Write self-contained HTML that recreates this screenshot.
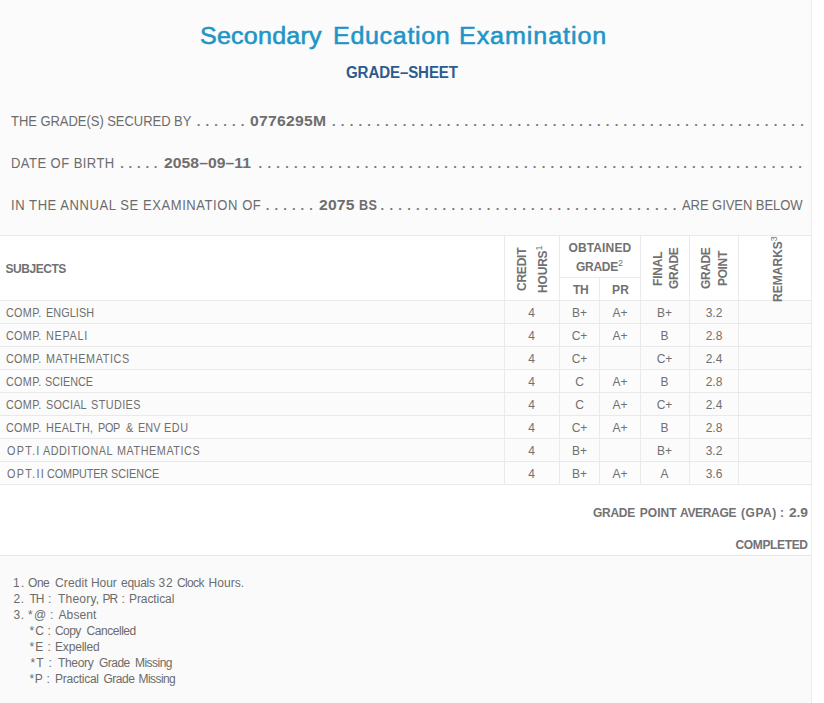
<!DOCTYPE html>
<html>
<head>
<meta charset="utf-8">
<title>Grade Sheet</title>
<style>
html,body{margin:0;padding:0;background:#fff;}
body{width:824px;height:703px;overflow:hidden;font-family:"Liberation Sans",sans-serif;color:#707070;position:relative;}
#sheet{position:absolute;left:0;top:0;width:811px;height:703px;background:#fbfbfb;border-right:1px solid #eeeeee;}
.abs{position:absolute;white-space:nowrap;line-height:16px;}
.rot{position:absolute;white-space:nowrap;line-height:12px;transform-origin:0 0;transform:rotate(-90deg);font-size:12px;font-weight:bold;color:#717171;}
sup{font-size:9px;font-weight:normal;line-height:0;vertical-align:baseline;position:relative;top:-5px;}
.ti{font-size:23px;line-height:30px;color:#1f95c7;-webkit-text-stroke:0.55px #1f95c7;transform-origin:0 0;transform:scaleX(1.09);}
.t{font-size:14px;color:#6c6c6c;transform-origin:0 0;transform:scaleX(0.93);}
.b{font-size:14px;font-weight:bold;color:#6e6e6e;transform-origin:0 0;transform:scaleX(1.12);}
.h{font-size:12px;font-weight:bold;color:#717171;}
.s{font-size:12px;color:#6e6e6e;transform-origin:0 0;transform:scaleX(0.9);}
.n{font-size:12px;color:#6c6c6c;}
.d{font-size:13px;font-weight:bold;color:#777;}
#tbl{position:absolute;left:0;top:235px;width:811px;height:321px;background:#fff;}
#grid{position:absolute;left:0;top:0;width:812px;border-collapse:separate;border-spacing:0;table-layout:fixed;border-top:1px solid #e9e9e9;font-size:12px;}
#grid th,#grid td{box-sizing:border-box;border-right:1px solid #eaeaea;border-bottom:1px solid #e9e9e9;padding:0;margin:0;}
#grid td{height:23px;text-align:center;line-height:20px;padding-top:2px;color:#707070;background:#fcfcfc;}
#grid tr.o td{background:#fbfbfb;}
#grid td:nth-child(2),#grid td:nth-child(5){padding-right:1px;}
#grid th{background:#fff;}
#foot{position:absolute;left:0;top:555px;width:811px;height:148px;background:#fafafa;border-top:1px solid #e8e8e8;}
</style>
</head>
<body>
<div id="sheet">
<div id="t1" class="abs ti" style="left:199.60px;top:21.00px;letter-spacing:0.191px;">Secondary</div>
<div id="t2" class="abs ti" style="left:332.80px;top:21.00px;letter-spacing:0.604px;">Education</div>
<div id="t3" class="abs ti" style="left:458.80px;top:21.00px;letter-spacing:0.855px;">Examination</div>
<div id="sub" class="abs" style="font-size:16px;line-height:18px;font-weight:bold;color:#2d5b8e;transform-origin:0 0;transform:scaleX(0.94);left:346.00px;top:64.00px;letter-spacing:-0.090px;">GRADE–SHEET</div>

<div id="l1a" class="abs t" style="left:10.60px;top:113.00px;letter-spacing:-0.057px;">THE GRADE(S) SECURED BY</div>
<div id="l1d" class="abs d" style="left:196.80px;top:114.00px;letter-spacing:0.779px;">. . . . . .</div>
<div id="l1b" class="abs b" style="left:250.30px;top:113.00px;letter-spacing:0.257px;">0776295M</div>
<div id="l1e" class="abs d" style="left:332.00px;top:114.00px;letter-spacing:0.805px;">. . . . . . . . . . . . . . . . . . . . . . . . . . . . . . . . . . . . . . . . . . . . . . . . . . . . . .</div>
<div id="l2a" class="abs t" style="left:10.60px;top:155.00px;letter-spacing:0.480px;">DATE OF BIRTH</div>
<div id="l2d" class="abs d" style="left:120.20px;top:156.00px;letter-spacing:0.596px;">. . . . .</div>
<div id="l2b" class="abs b" style="left:164.00px;top:155.00px;letter-spacing:0.060px;">2058–09–11</div>
<div id="l2e" class="abs d" style="left:258.60px;top:156.00px;letter-spacing:0.811px;">. . . . . . . . . . . . . . . . . . . . . . . . . . . . . . . . . . . . . . . . . . . . . . . . . . . . . . . . . . . . . .</div>
<div id="l3a" class="abs t" style="left:10.60px;top:197.00px;letter-spacing:0.612px;">IN THE ANNUAL SE EXAMINATION OF</div>
<div id="l3d" class="abs d" style="left:265.80px;top:198.00px;letter-spacing:0.738px;">. . . . . .</div>
<div id="l3b" class="abs b" style="left:319.10px;top:197.00px;letter-spacing:0.150px;">2075</div><div id="l3f" class="abs b" style="transform:scaleX(0.9);left:358.90px;top:197.00px;letter-spacing:0.360px;">BS</div>
<div id="l3e" class="abs d" style="left:380.60px;top:198.00px;letter-spacing:0.813px;">. . . . . . . . . . . . . . . . . . . . . . . . . . . . . . . . . .</div>
<div id="l3c" class="abs t" style="left:681.90px;top:197.00px;letter-spacing:-0.077px;">ARE GIVEN BELOW</div>

<div id="tbl">
<table id="grid">
<colgroup><col style="width:505px"><col style="width:55px"><col style="width:40px"><col style="width:41px"><col style="width:49px"><col style="width:49px"><col style="width:73px"></colgroup>
<tr style="height:42px"><th rowspan="2"></th><th rowspan="2"></th><th colspan="2"></th><th rowspan="2"></th><th rowspan="2"></th><th rowspan="2"></th></tr>
<tr style="height:23px"><th></th><th></th></tr>
<tr class="o"><td></td><td>4</td><td>B+</td><td>A+</td><td>B+</td><td>3.2</td><td></td></tr>
<tr><td></td><td>4</td><td>C+</td><td>A+</td><td>B</td><td>2.8</td><td></td></tr>
<tr class="o"><td></td><td>4</td><td>C+</td><td></td><td>C+</td><td>2.4</td><td></td></tr>
<tr><td></td><td>4</td><td>C</td><td>A+</td><td>B</td><td>2.8</td><td></td></tr>
<tr class="o"><td></td><td>4</td><td>C</td><td>A+</td><td>C+</td><td>2.4</td><td></td></tr>
<tr><td></td><td>4</td><td>C+</td><td>A+</td><td>B</td><td>2.8</td><td></td></tr>
<tr class="o"><td></td><td>4</td><td>B+</td><td></td><td>B+</td><td>3.2</td><td></td></tr>
<tr><td></td><td>4</td><td>B+</td><td>A+</td><td>A</td><td>3.6</td><td></td></tr>
</table>
</div>

<div id="hsub" class="abs h" style="left:5.50px;top:261.00px;letter-spacing:-0.463px;">SUBJECTS</div>
<div id="hob" class="abs h" style="left:568.50px;top:240.00px;letter-spacing:0.129px;">OBTAINED</div>
<div id="hgr" class="abs h" style="left:576.00px;top:259.00px;letter-spacing:-0.288px;">GRADE<sup>2</sup></div>
<div id="hth" class="abs h" style="left:573.00px;top:282.00px;letter-spacing:-0.300px;">TH</div>
<div id="hpr" class="abs h" style="left:612.00px;top:282.00px;letter-spacing:0.200px;">PR</div>
<div id="vcr" class="rot" style="left:515.70px;top:291.00px;letter-spacing:-0.234px;">CREDIT</div>
<div id="vho" class="rot" style="left:537.30px;top:293.00px;letter-spacing:-0.180px;">HOURS<sup>1</sup></div>
<div id="vfi" class="rot" style="left:651.50px;top:286.00px;letter-spacing:-0.180px;">FINAL</div>
<div id="vgr" class="rot" style="left:668.30px;top:289.00px;letter-spacing:-0.405px;">GRADE</div>
<div id="vgp" class="rot" style="left:699.70px;top:289.00px;letter-spacing:-0.405px;">GRADE</div>
<div id="vpo" class="rot" style="left:716.50px;top:286.00px;letter-spacing:-0.360px;">POINT</div>
<div id="vre" class="rot" style="left:771.70px;top:302.00px;letter-spacing:0.026px;">REMARKS<sup>3</sup></div>

<div id="s1a" class="abs s" style="left:6.00px;top:305.00px;letter-spacing:0.360px;">COMP.</div><div id="s1b" class="abs s" style="left:45.50px;top:305.00px;letter-spacing:0.120px;">ENGLISH</div>
<div id="s2a" class="abs s" style="left:6.00px;top:328.00px;letter-spacing:0.360px;">COMP.</div><div id="s2b" class="abs s" style="left:45.50px;top:328.00px;letter-spacing:0.792px;">NEPALI</div>
<div id="s3a" class="abs s" style="left:6.00px;top:351.00px;letter-spacing:0.360px;">COMP.</div><div id="s3b" class="abs s" style="left:45.50px;top:351.00px;letter-spacing:0.684px;">MATHEMATICS</div>
<div id="s4a" class="abs s" style="left:6.00px;top:374.00px;letter-spacing:0.360px;">COMP.</div><div id="s4b" class="abs s" style="left:45.00px;top:374.00px;letter-spacing:0.000px;">SCIENCE</div>
<div id="s5a" class="abs s" style="left:6.00px;top:397.00px;letter-spacing:0.360px;">COMP.</div><div id="s5b" class="abs s" style="left:46.00px;top:397.00px;letter-spacing:0.216px;">SOCIAL</div><div id="s5c" class="abs s" style="left:91.00px;top:397.00px;letter-spacing:0.480px;">STUDIES</div>
<div id="s6a" class="abs s" style="left:6.00px;top:420.00px;letter-spacing:0.360px;">COMP.</div><div id="s6b" class="abs s" style="left:46.00px;top:420.00px;letter-spacing:0.420px;">HEALTH,</div><div id="s6c" class="abs s" style="left:98.00px;top:420.00px;letter-spacing:-0.270px;">POP</div><div id="s6d" class="abs s" style="left:126.00px;top:420.00px;letter-spacing:0.000px;">&amp;</div><div id="s6e" class="abs s" style="left:138.00px;top:420.00px;letter-spacing:0.180px;">ENV</div><div id="s6f" class="abs s" style="left:164.00px;top:420.00px;letter-spacing:0.630px;">EDU</div>
<div id="s7a" class="abs s" style="left:7.00px;top:443.00px;letter-spacing:1.440px;">OPT.I</div><div id="s7b" class="abs s" style="left:43.00px;top:443.00px;letter-spacing:0.580px;">ADDITIONAL</div><div id="s7c" class="abs s" style="left:117.00px;top:443.00px;letter-spacing:0.630px;">MATHEMATICS</div>
<div id="s8a" class="abs s" style="left:7.00px;top:466.00px;letter-spacing:1.512px;">OPT.II</div><div id="s8b" class="abs s" style="left:46.50px;top:466.00px;letter-spacing:-0.103px;">COMPUTER</div><div id="s8c" class="abs s" style="left:111.00px;top:466.00px;letter-spacing:0.030px;">SCIENCE</div>

<div id="g1" class="abs h" style="color:#727272;left:593.00px;top:505.00px;letter-spacing:-0.270px;">GRADE</div>
<div id="g2" class="abs h" style="color:#727272;left:639.80px;top:505.00px;letter-spacing:0.000px;">POINT</div>
<div id="g3" class="abs h" style="color:#727272;left:680.00px;top:505.00px;letter-spacing:-0.345px;">AVERAGE</div>
<div id="g4" class="abs h" style="color:#727272;left:741.00px;top:505.00px;letter-spacing:0.540px;">(GPA)</div>
<div id="g5" class="abs h" style="color:#727272;left:780.00px;top:505.00px;letter-spacing:0.000px;">:</div>
<div id="g6" class="abs h" style="color:#727272;transform-origin:0 0;transform:scaleX(1.15);left:788.60px;top:505.00px;letter-spacing:-0.090px;">2.9</div>
<div id="cmp" class="abs h" style="color:#727272;left:735.50px;top:537.00px;letter-spacing:-0.360px;">COMPLETED</div>

<div id="foot"></div>
<div id="n1a" class="abs n" style="left:13.00px;top:575.00px;letter-spacing:1.440px;">1.</div><div id="n1b" class="abs n" style="left:28.00px;top:575.00px;letter-spacing:-0.450px;">One</div><div id="n1c" class="abs n" style="left:55.00px;top:575.00px;letter-spacing:0.108px;">Credit</div><div id="n1d" class="abs n" style="left:91.00px;top:575.00px;letter-spacing:-0.060px;">Hour</div><div id="n1e" class="abs n" style="left:121.00px;top:575.00px;letter-spacing:-0.288px;">equals</div><div id="n1f" class="abs n" style="left:158.50px;top:575.00px;letter-spacing:0.720px;">32</div><div id="n1g" class="abs n" style="left:177.00px;top:575.00px;letter-spacing:-0.630px;">Clock</div><div id="n1h" class="abs n" style="left:208.50px;top:575.00px;letter-spacing:0.072px;">Hours.</div>
<div id="n2a" class="abs n" style="left:13.50px;top:591.00px;letter-spacing:0.540px;">2.</div><div id="n2b" class="abs n" style="left:29.50px;top:591.00px;letter-spacing:-1.080px;">TH</div><div id="n2c" class="abs n" style="left:48.00px;top:591.00px;letter-spacing:0.000px;">:</div><div id="n2d" class="abs n" style="left:58.00px;top:591.00px;letter-spacing:0.210px;">Theory,</div><div id="n2e" class="abs n" style="left:102.50px;top:591.00px;letter-spacing:-1.080px;">PR</div><div id="n2f" class="abs n" style="left:121.50px;top:591.00px;letter-spacing:0.000px;">:</div><div id="n2g" class="abs n" style="left:129.00px;top:591.00px;letter-spacing:-0.090px;">Practical</div>
<div id="n3a" class="abs n" style="left:13.50px;top:607.00px;letter-spacing:0.540px;">3.</div><div id="n3b" class="abs n" style="left:28.00px;top:607.00px;letter-spacing:1.440px;">*@</div><div id="n3c" class="abs n" style="left:50.00px;top:607.00px;letter-spacing:0.000px;">:</div><div id="n3d" class="abs n" style="left:58.50px;top:607.00px;letter-spacing:0.108px;">Absent</div>
<div id="n4a" class="abs n" style="left:29.50px;top:623.00px;letter-spacing:1.080px;">*C</div><div id="n4b" class="abs n" style="left:47.50px;top:623.00px;letter-spacing:0.000px;">:</div><div id="n4c" class="abs n" style="left:55.00px;top:623.00px;letter-spacing:-0.600px;">Copy</div><div id="n4d" class="abs n" style="left:86.50px;top:623.00px;letter-spacing:-0.450px;">Cancelled</div>
<div id="n5a" class="abs n" style="left:29.50px;top:639.00px;letter-spacing:1.080px;">*E</div><div id="n5b" class="abs n" style="left:47.50px;top:639.00px;letter-spacing:0.000px;">:</div><div id="n5c" class="abs n" style="left:55.00px;top:639.00px;letter-spacing:-0.180px;">Expelled</div>
<div id="n6a" class="abs n" style="left:30.38px;top:655.00px;letter-spacing:1.300px;">*T</div><div id="n6b" class="abs n" style="left:48.50px;top:655.00px;letter-spacing:0.000px;">:</div><div id="n6c" class="abs n" style="left:58.00px;top:655.00px;letter-spacing:-0.324px;">Theory</div><div id="n6d" class="abs n" style="left:99.00px;top:655.00px;letter-spacing:-0.540px;">Grade</div><div id="n6e" class="abs n" style="left:135.00px;top:655.00px;letter-spacing:-0.540px;">Missing</div>
<div id="n7a" class="abs n" style="left:29.50px;top:671.00px;letter-spacing:0.540px;">*P</div><div id="n7b" class="abs n" style="left:46.50px;top:671.00px;letter-spacing:0.000px;">:</div><div id="n7c" class="abs n" style="left:55.00px;top:671.00px;letter-spacing:-0.248px;">Practical</div><div id="n7d" class="abs n" style="left:103.50px;top:671.00px;letter-spacing:-0.495px;">Grade</div><div id="n7e" class="abs n" style="left:138.50px;top:671.00px;letter-spacing:-0.570px;">Missing</div>
</div>
</body>
</html>
